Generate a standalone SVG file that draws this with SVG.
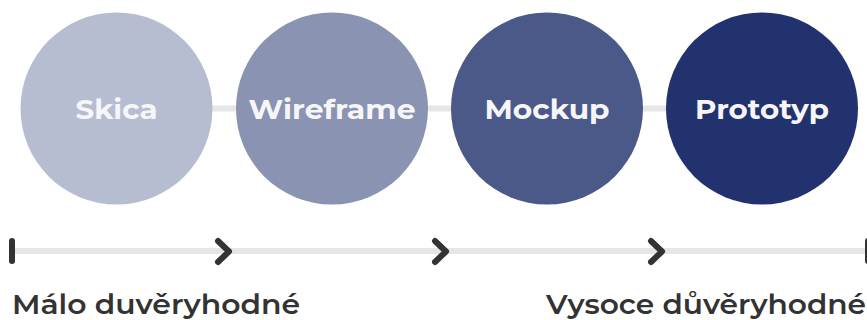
<svg xmlns="http://www.w3.org/2000/svg" width="867" height="320" viewBox="0 0 867 320">
<style>
.conn{stroke:#e6e6e6;stroke-width:6;fill:none}
.node text{font-family:Montserrat,"Inter","Open Sans",sans-serif;font-weight:700;font-size:27px;fill:#f6f6f8;text-anchor:middle}
.mark{stroke:#333333;stroke-width:6;stroke-linecap:round;stroke-linejoin:round;fill:none}
.lbl{font-family:Montserrat,"Inter","Open Sans",sans-serif;font-weight:600;font-size:28px;fill:#333333}
</style>
<rect width="867" height="320" fill="#ffffff"/>
<g id="connectors">
<line class="conn" x1="117" y1="108.5" x2="762" y2="108.5"/>
<line class="conn" x1="12" y1="251" x2="867" y2="251"/>
<line class="mark" x1="12" y1="241" x2="12" y2="261"/>
<line class="mark" x1="868" y1="241" x2="868" y2="261"/>
<polyline class="mark" points="218,241 229,251.5 218,262"/>
<polyline class="mark" points="435,241 446,251.5 435,262"/>
<polyline class="mark" points="651,241 662,251.5 651,262"/>
</g>
<g id="skica" class="node">
<circle cx="116.5" cy="108.5" r="96" fill="#b7bdd1"/>
<text x="116.5" y="118.5" textLength="82" lengthAdjust="spacingAndGlyphs">Skica</text>
</g>
<g id="wireframe" class="node">
<circle cx="332" cy="108.5" r="96" fill="#8a93b2"/>
<text x="332" y="118.5" textLength="167" lengthAdjust="spacingAndGlyphs">Wireframe</text>
</g>
<g id="mockup" class="node">
<circle cx="547" cy="108.5" r="96" fill="#4a5988"/>
<text x="547" y="118.5" textLength="125" lengthAdjust="spacingAndGlyphs">Mockup</text>
</g>
<g id="prototyp" class="node">
<circle cx="762" cy="108.5" r="96" fill="#22326e"/>
<text x="762" y="118.5" textLength="134" lengthAdjust="spacingAndGlyphs">Prototyp</text>
</g>
<text class="lbl" x="12" y="314" textLength="288" lengthAdjust="spacingAndGlyphs">Málo duvěryhodné</text>
<text class="lbl" x="866" y="314" text-anchor="end" textLength="320" lengthAdjust="spacingAndGlyphs">Vysoce důvěryhodné</text>
</svg>
